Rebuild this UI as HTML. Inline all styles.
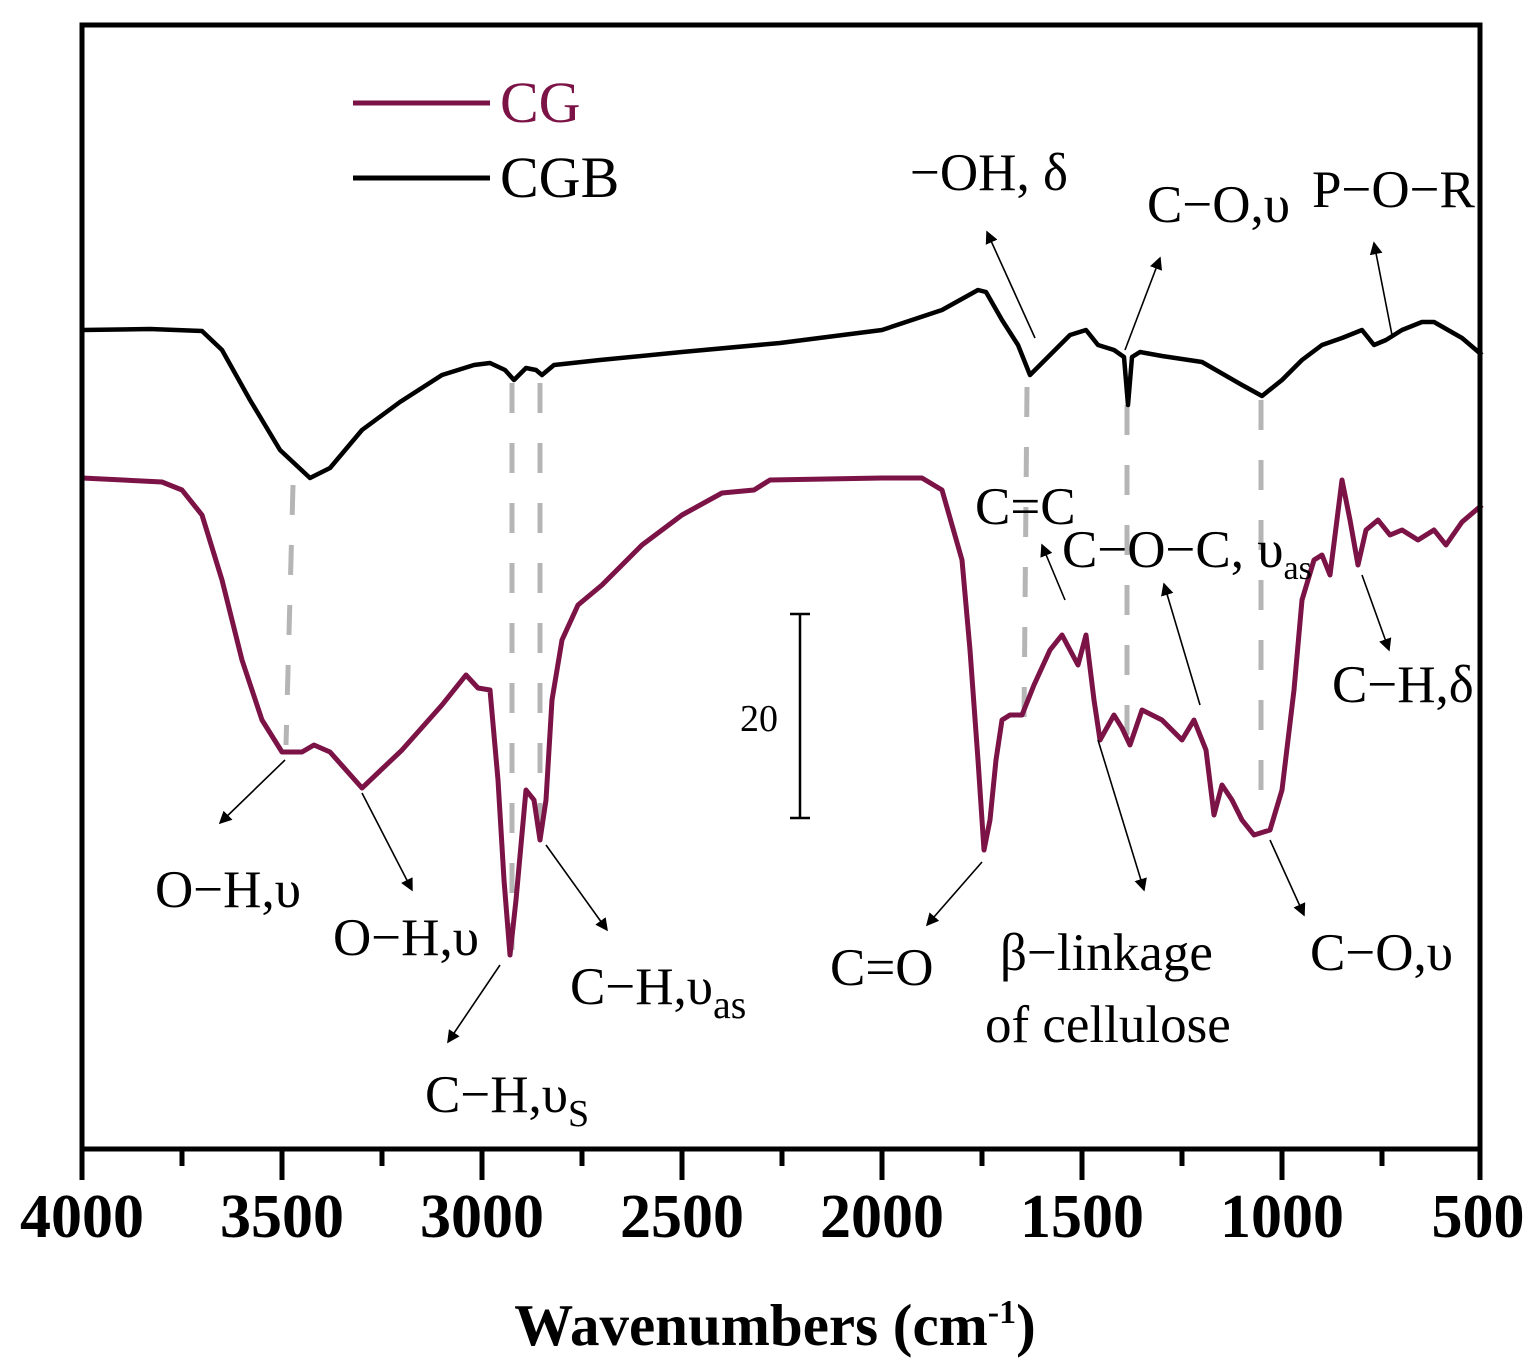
<!DOCTYPE html>
<html><head><meta charset="utf-8"><style>
html,body{margin:0;padding:0;background:#fff;}
svg{display:block;}
text{font-family:"Liberation Serif",serif;}
</style></head><body>
<svg width="1535" height="1371" viewBox="0 0 1535 1371" xmlns="http://www.w3.org/2000/svg">
<g stroke="#b5b5b5" stroke-width="5" stroke-dasharray="30,30" fill="none">
<line x1="293" y1="485" x2="286" y2="745"/>
<line x1="512" y1="383" x2="512" y2="950"/>
<line x1="540" y1="383" x2="540" y2="835"/>
<line x1="1027" y1="387" x2="1024" y2="720"/>
<line x1="1127" y1="405" x2="1127" y2="745"/>
<line x1="1261" y1="400" x2="1261" y2="790"/>
</g>
<polyline fill="none" stroke="#000" stroke-width="4.5" stroke-linejoin="round" points="82,330 150,329 202,331 222,350 250,400 280,450 310,478 330,468 362,430 400,402 442,375 474,365 490,363 505,370 514,380 526,368 536,370 542,375 554,365 600,360 682,352 780,343 882,330 942,310 978,290 986,292 1002,320 1018,345 1030,375 1050,355 1070,335 1086,330 1098,345 1114,350 1124,357 1128,405 1132,357 1140,352 1162,356 1202,362 1242,385 1262,396 1282,380 1302,360 1322,345 1342,338 1362,330 1374,345 1386,340 1402,330 1422,322 1434,322 1462,338 1482,355"/>
<polyline fill="none" stroke="#7b1346" stroke-width="5" stroke-linejoin="round" points="82,478 162,482 182,490 202,515 222,580 242,660 262,720 282,752 302,752 314,745 330,752 362,788 402,750 442,705 466,675 478,688 490,690 498,780 504,880 510,955 516,900 526,790 534,800 540,840 546,800 552,700 562,640 578,605 602,585 642,545 682,515 722,493 754,490 770,480 882,478 922,478 942,490 962,560 970,650 978,760 984,850 990,820 996,760 1002,720 1010,715 1022,715 1034,685 1050,650 1062,635 1070,650 1078,665 1086,635 1094,700 1100,740 1114,715 1122,728 1130,745 1142,710 1162,720 1182,740 1194,720 1206,750 1214,815 1222,785 1232,800 1242,820 1254,835 1270,830 1282,790 1294,690 1302,600 1314,560 1322,555 1330,575 1342,480 1350,520 1358,565 1366,530 1378,520 1390,535 1402,530 1418,540 1434,530 1446,545 1462,522 1482,505"/>
<rect x="82" y="25" width="1398" height="1124" fill="none" stroke="#000" stroke-width="5"/>
<g stroke="#000" stroke-width="5">
<line x1="82" y1="1149" x2="82" y2="1180"/><line x1="282" y1="1149" x2="282" y2="1180"/><line x1="482" y1="1149" x2="482" y2="1180"/><line x1="682" y1="1149" x2="682" y2="1180"/><line x1="882" y1="1149" x2="882" y2="1180"/><line x1="1082" y1="1149" x2="1082" y2="1180"/><line x1="1282" y1="1149" x2="1282" y2="1180"/><line x1="1480" y1="1149" x2="1480" y2="1180"/>
<line x1="182" y1="1149" x2="182" y2="1166"/><line x1="382" y1="1149" x2="382" y2="1166"/><line x1="582" y1="1149" x2="582" y2="1166"/><line x1="782" y1="1149" x2="782" y2="1166"/><line x1="982" y1="1149" x2="982" y2="1166"/><line x1="1182" y1="1149" x2="1182" y2="1166"/><line x1="1382" y1="1149" x2="1382" y2="1166"/>
</g>
<g font-size="62" font-weight="bold" text-anchor="middle">
<text x="82" y="1237">4000</text><text x="282" y="1237">3500</text><text x="482" y="1237">3000</text><text x="682" y="1237">2500</text><text x="882" y="1237">2000</text><text x="1082" y="1237">1500</text><text x="1282" y="1237">1000</text><text x="1478" y="1237">500</text>
</g>
<text x="775" y="1345" font-size="59" font-weight="bold" text-anchor="middle">Wavenumbers (cm<tspan font-size="34" dy="-22">-1</tspan><tspan dy="22">)</tspan></text>
<line x1="353" y1="103" x2="490" y2="103" stroke="#7b1346" stroke-width="5"/>
<text x="500" y="122" font-size="58" fill="#7b1346">CG</text>
<line x1="353" y1="178" x2="490" y2="178" stroke="#000" stroke-width="5"/>
<text x="500" y="197" font-size="58">CGB</text>
<g stroke="#000" stroke-width="2.5"><line x1="800" y1="614" x2="800" y2="818"/><line x1="790" y1="614" x2="810" y2="614"/><line x1="790" y1="818" x2="810" y2="818"/></g>
<text x="740" y="731" font-size="38">20</text>
<defs><marker id="ah" markerWidth="8" markerHeight="8" refX="7" refY="4" orient="auto" markerUnits="strokeWidth"><path d="M0,0 L8,4 L0,8 z" fill="#000"/></marker></defs>
<g stroke="#000" stroke-width="1.6" fill="none" marker-end="url(#ah)">
<line x1="1035" y1="338" x2="987" y2="232"/>
<line x1="1125" y1="350" x2="1160" y2="258"/>
<line x1="1392" y1="335" x2="1374" y2="243"/>
<line x1="1065" y1="600" x2="1042" y2="545"/>
<line x1="1200" y1="705" x2="1164" y2="584"/>
<line x1="1098" y1="740" x2="1144" y2="890"/>
<line x1="1362" y1="575" x2="1389" y2="650"/>
<line x1="285" y1="760" x2="220" y2="823"/>
<line x1="362" y1="793" x2="412" y2="890"/>
<line x1="500" y1="965" x2="448" y2="1042"/>
<line x1="546" y1="845" x2="607" y2="930"/>
<line x1="982" y1="862" x2="927" y2="925"/>
<line x1="1270" y1="840" x2="1304" y2="915"/>
</g>
<g font-size="53">
<text x="910" y="190">−OH, δ</text>
<text x="1147" y="222">C−O,υ</text>
<text x="1312" y="207">P−O−R</text>
<text x="975" y="524">C=C</text>
<text x="1062" y="567">C−O−C, υ<tspan font-size="34" dy="12">as</tspan></text>
<text x="1332" y="702">C−H,δ</text>
<text x="155" y="907">O−H,υ</text>
<text x="333" y="955">O−H,υ</text>
<text x="425" y="1112">C−H,υ<tspan font-size="38" dy="14">S</tspan></text>
<text x="570" y="1004">C−H,υ<tspan font-size="40" dy="14">as</tspan></text>
<text x="830" y="985">C=O</text>
<text x="1000" y="970">β−linkage</text>
<text x="985" y="1042">of cellulose</text>
<text x="1310" y="970">C−O,υ</text>
</g>
</svg>
</body></html>
